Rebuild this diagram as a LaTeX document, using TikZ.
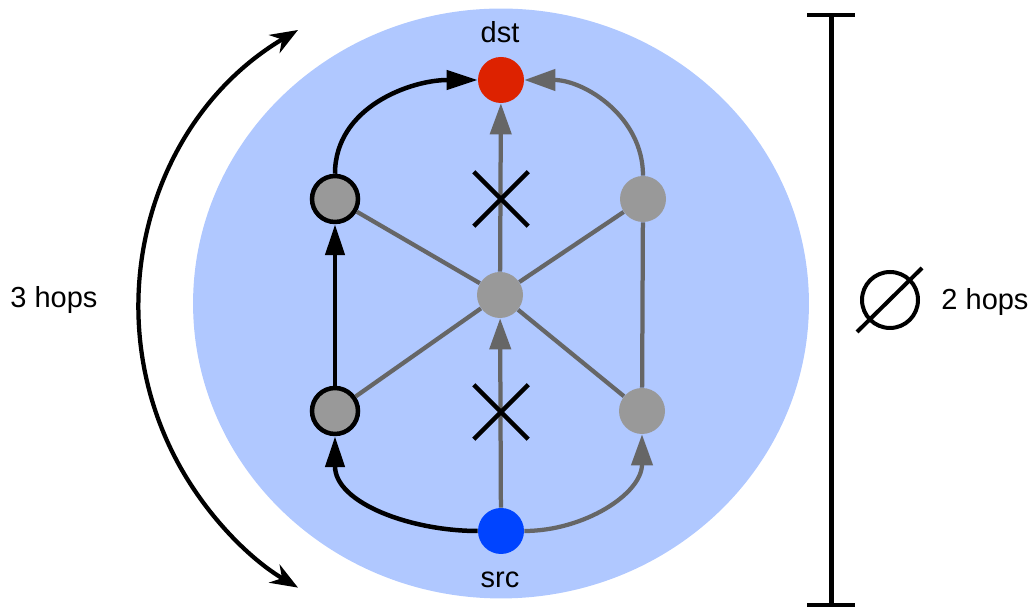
\documentclass[tikz,border=0pt]{standalone}
\usepackage{fontspec}
\setmainfont{Liberation Sans}
\usetikzlibrary{arrows.meta, shapes.misc}

\definecolor{flaeche}{RGB}{176,200,255}
\definecolor{kante}{RGB}{102,102,102}
\definecolor{knoten}{RGB}{153,153,153}
\definecolor{ziel}{RGB}{221,34,0}
\definecolor{quelle}{RGB}{0,68,255}

\begin{document}
\begin{tikzpicture}[x=0.02cm, y=0.02cm,
			punkt/.style={circle, minimum size=0.92cm, inner sep=0pt, fill=knoten},
			aktiv/.style={punkt, draw=black, line width=0.09cm},
			weg/.style={draw=black, line width=0.09cm, -{Triangle[length=0.62cm, width=0.38cm]}},
			grau/.style={draw=kante, line width=0.085cm},
			grauweg/.style={grau, -{Triangle[length=0.62cm, width=0.42cm]}},
			kreuz/.style={draw, cross out, line width=0.09cm, minimum size=1cm, inner sep=0pt},
			font=\fontsize{16.5}{20}\selectfont]
			\useasboundingbox (0,0) rectangle (1034,607);
			% Hintergrund
			\fill[flaeche] (501,303.5) ellipse [x radius=6.16cm, y radius=5.9cm];
			% Knoten
			\node[punkt, fill=ziel] (dst) at (501,527) {};
			\node[punkt, fill=quelle] (src) at (501,76) {};
			\node[punkt] (mitte) at (500,312) {};
			\node[aktiv] (lo) at (335,408) {};
			\node[aktiv] (lu) at (335,196) {};
			\node[punkt] (ro) at (643,408) {};
			\node[punkt] (ru) at (642,196) {};
			\node (dstlabel) at (500,575) {dst};
			\node (srclabel) at (500,27) {src};
			% Querverbindungen
			\foreach \k in {lo,lu,ro,ru} \draw[grau] (mitte) -- (\k);
			\draw[grau] (ru) -- (ro);
			% direkte Wege (gesperrt)
			\draw[grauweg] (src) -- (mitte);
			\draw[grauweg] (mitte) -- (dst);
			\node[kreuz] (x1) at (501,408) {};
			\node[kreuz] (x2) at (501,195) {};
			% Umwege
			\draw[grauweg] (src.east) to[out=0, in=-90] (ru.south);
			\draw[grauweg] (ro.north) to[out=90, in=0] (dst.east);
			\draw[weg] (src.west) to[out=180, in=-90] (lu.south);
			\draw[weg] (lu) -- (lo);
			\draw[weg] (lo.north) to[out=90, in=180] (dst.west);
			% Pfadlaenge links
			\coordinate (bogen) at (298,577);
			\draw[line width=0.085cm, {Stealth[length=0.55cm, width=0.42cm]}-{Stealth[length=0.55cm, width=0.42cm]}]
				(bogen) arc[start angle=120.6, end angle=239.4, radius=6.48cm];
			\node (drei) at (54,307) {3 hops};
			% Durchmesser rechts
			\coordinate (oben) at (831,592);
			\coordinate (unten) at (831,2);
			\draw[line width=0.1cm] (oben) -- (unten);
			\draw[line width=0.09cm] ([xshift=-0.48cm]oben) -- ([xshift=0.48cm]oben);
			\draw[line width=0.09cm] ([xshift=-0.48cm]unten) -- ([xshift=0.48cm]unten);
			\draw[line width=0.08cm] (890,307) circle [radius=0.56cm];
			\draw[line width=0.08cm] (857,275) -- (922,339);
			\node (zwei) at (985,305) {2 hops};
\end{tikzpicture}
\end{document}
